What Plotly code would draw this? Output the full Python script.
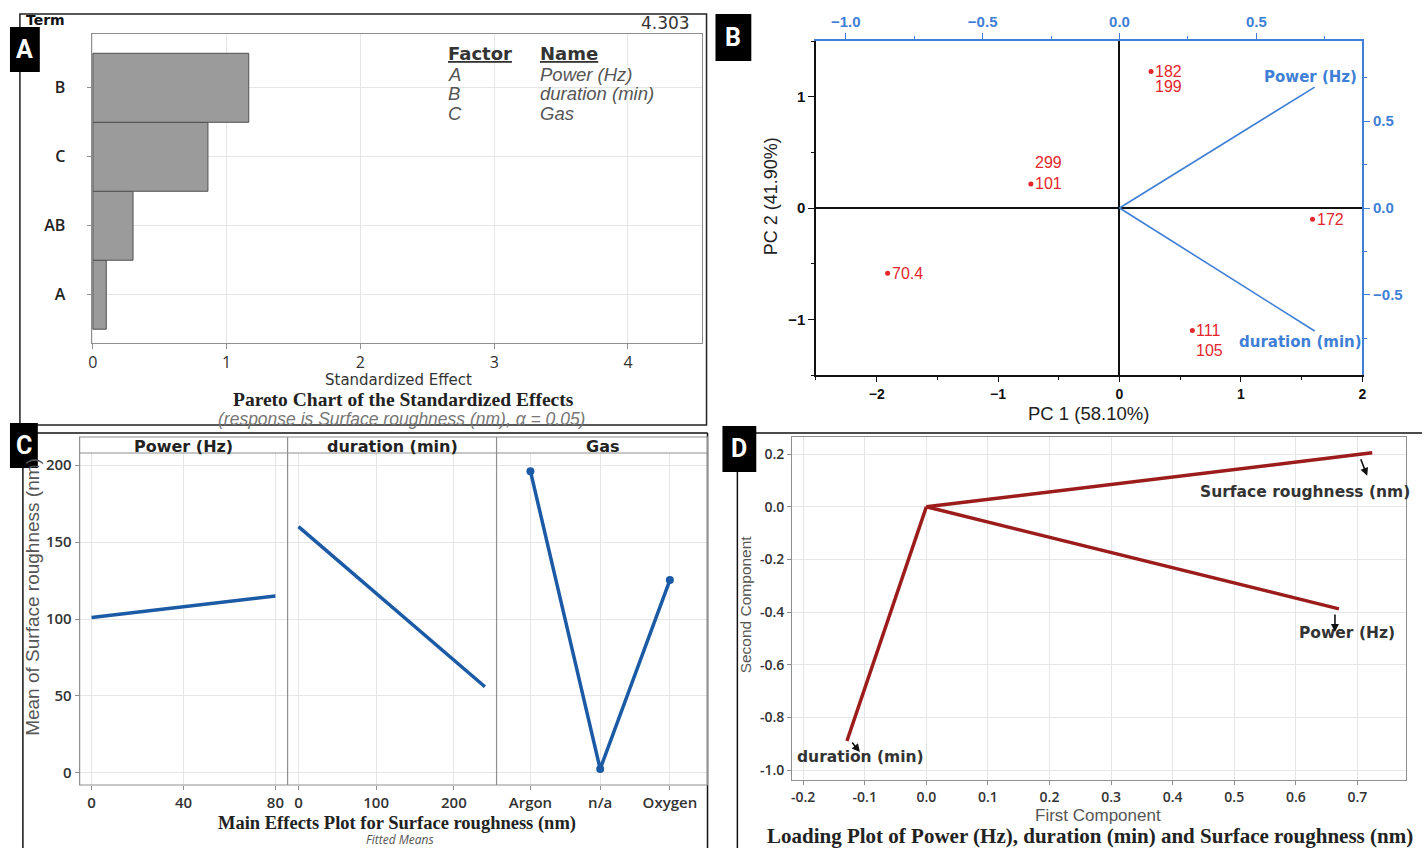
import plotly.graph_objects as go

W, H = 1426, 848
def X(px): return px / W
def Y(py): return 1 - py / H

# ---------------- Panel A: Pareto chart ----------------
pareto_terms = ["A", "AB", "C", "B"]
pareto_effects = [0.10, 0.30, 0.86, 1.165]
critical_value = 4.303
factor_codes = ["A", "B", "C"]
factor_names = ["Power (Hz)", "duration (min)", "Gas"]
pareto_xticks = [0, 1, 2, 3, 4]

# ---------------- Panel B: PCA biplot ----------------
score_labels = ["182", "101", "70.4", "172", "111"]
score_pc1 = [0.26, -0.73, -1.91, 1.59, 0.60]
score_pc2 = [1.225, 0.216, -0.586, -0.10, -1.10]
stacked_labels = ["199", "299", "105"]
stacked_pc1 = [0.26, -0.73, 0.60]
stacked_pc2 = [1.225, 0.216, -1.10]
stacked_shift = [-15, 21, -20]
biplot_vars = ["Power (Hz)", "duration (min)"]
biplot_load1 = [0.713, 0.713]
biplot_load2 = [0.695, -0.707]

# ---------------- Panel C: Main effects ----------------
power_levels = [0, 80]
power_means = [101, 115]
duration_levels = [0, 240]
duration_means = [160, 56]
gas_levels = ["Argon", "n/a", "Oxygen"]
gas_means = [196, 2.6, 125.3]
c_panels = ["Power (Hz)", "duration (min)", "Gas"]

# ---------------- Panel D: Loading plot ----------------
loading_vars = ["Surface roughness (nm)", "Power (Hz)", "duration (min)"]
first_comp = [0.724, 0.670, -0.129]
second_comp = [0.205, -0.388, -0.890]
d_xticks = [-0.2, -0.1, 0.0, 0.1, 0.2, 0.3, 0.4, 0.5, 0.6, 0.7]
d_yticks = [0.2, 0.0, -0.2, -0.4, -0.6, -0.8, -1.0]

SANS = "Open Sans"
ARIAL = "Liberation Sans"
SERIF = "Liberation Serif"
DJB = "DejaVu Sans"

fig = go.Figure()

# ---- A traces
fig.add_trace(go.Bar(x=pareto_effects, y=pareto_terms, orientation="h", width=1,
                     marker=dict(color="#9b9b9b", line=dict(color="#505050", width=1)),
                     xaxis="x", yaxis="y", showlegend=False))
fig.add_trace(go.Scatter(x=[critical_value, critical_value], y=[-0.7, 3.78], mode="lines",
                         line=dict(color="#555555", width=1.3, dash="dash"),
                         xaxis="x", yaxis="y", showlegend=False))

# ---- B traces
for name, lx, ly in zip(biplot_vars, biplot_load1, biplot_load2):
    fig.add_trace(go.Scatter(x=[0, lx], y=[0, ly], mode="lines",
                             line=dict(color="#3f7fd6", width=1.6),
                             xaxis="x3", yaxis="y3", showlegend=False))
fig.add_trace(go.Scatter(x=score_pc1, y=score_pc2, mode="markers",
                         marker=dict(color="#e3262c", size=5),
                         xaxis="x2", yaxis="y2", showlegend=False))

# ---- C traces
fig.add_trace(go.Scatter(x=power_levels, y=power_means, mode="lines",
                         line=dict(color="#1b5aa5", width=3.5), xaxis="x4", yaxis="y4", showlegend=False))
fig.add_trace(go.Scatter(x=duration_levels, y=duration_means, mode="lines",
                         line=dict(color="#1b5aa5", width=3.5), xaxis="x5", yaxis="y4", showlegend=False))
fig.add_trace(go.Scatter(x=gas_levels, y=gas_means, mode="lines+markers",
                         line=dict(color="#1b5aa5", width=3.5), marker=dict(size=8, color="#1b5aa5"),
                         xaxis="x6", yaxis="y4", showlegend=False))

# ---- D traces
for vx, vy in zip(first_comp, second_comp):
    fig.add_trace(go.Scatter(x=[0, vx], y=[0, vy], mode="lines",
                             line=dict(color="#9c1b1b", width=3.5),
                             xaxis="x7", yaxis="y7", showlegend=False))

grid = "#e6e6e6"
frame = "#8f8f8f"
tick_col = "#333333"

layout = dict(
    width=W, height=H, margin=dict(l=0, r=0, t=0, b=0),
    paper_bgcolor="white", plot_bgcolor="rgba(0,0,0,0)",
    # A
    xaxis=dict(domain=[X(89), X(702)], anchor="y", range=[-0.01, 4.55],
               tickvals=pareto_xticks, showgrid=True, gridcolor=grid, zeroline=False,
               showline=True, linecolor=frame, mirror=True, ticks="outside", ticklen=5, tickcolor=frame,
               tickfont=dict(family=SANS, size=16, color=tick_col)),
    yaxis=dict(domain=[Y(343), Y(34)], anchor="x", range=[-0.7, 3.78], type="category",
               categoryorder="array", categoryarray=pareto_terms,
               showgrid=True, gridcolor=grid, zeroline=False, showline=True, linecolor=frame, mirror=True,
               ticks="outside", ticklen=4, tickcolor=frame, ticklabelstandoff=18,
               tickfont=dict(family=SANS, size=16, color="#222", weight=600)),
    # B bottom/left
    xaxis2=dict(domain=[X(817), X(1366)], anchor="y2", range=[-2.5, 2.0], dtick=1,
                showgrid=False, zeroline=True, zerolinecolor="#111", zerolinewidth=1.5,
                showline=True, linecolor="#111", linewidth=1.5, ticks="outside", ticklen=5, tickcolor="#111",
                minor=dict(ticks="outside", ticklen=3, dtick=0.5, tickcolor="#111"),
                tickfont=dict(family=ARIAL, size=14, color="#111", weight="bold")),
    yaxis2=dict(domain=[Y(375), Y(41)], anchor="x2", range=[-1.5, 1.5], dtick=1,
                showgrid=False, zeroline=True, zerolinecolor="#111", zerolinewidth=1.5,
                showline=True, linecolor="#111", linewidth=1.5, ticks="outside", ticklen=6, tickcolor="#111",
                minor=dict(ticks="outside", ticklen=3, dtick=0.5, tickcolor="#111"),
                tickfont=dict(family=ARIAL, size=15, color="#111", weight="bold")),
    # B top/right (loadings)
    xaxis3=dict(overlaying="x2", side="top", anchor="y3", range=[-1.109, 0.887],
                tickvals=[-1.0, -0.5, 0.0, 0.5], tickformat=".1f",
                showgrid=False, zeroline=False, showline=True, linecolor="#3f7fd6", linewidth=1.5,
                ticks="outside", ticklen=6, tickcolor="#3f7fd6",
                minor=dict(ticks="outside", ticklen=3, dtick=0.25, tickcolor="#3f7fd6"),
                tickfont=dict(family=ARIAL, size=15, color="#3f7fd6", weight="bold")),
    yaxis3=dict(overlaying="y2", side="right", anchor="x3", range=[-0.96, 0.96],
                tickvals=[-0.5, 0.0, 0.5], tickformat=".1f",
                showgrid=False, zeroline=False, showline=True, linecolor="#3f7fd6", linewidth=1.5,
                ticks="outside", ticklen=6, tickcolor="#3f7fd6",
                minor=dict(ticks="outside", ticklen=3, dtick=0.25, tickcolor="#3f7fd6"),
                tickfont=dict(family=ARIAL, size=15, color="#3f7fd6", weight="bold")),
    # C
    xaxis4=dict(domain=[X(77), X(286)], anchor="y4", range=[-5.2, 85.3], tickvals=[0, 40, 80],
                showgrid=True, gridcolor=grid, zeroline=False, showline=False,
                ticks="outside", ticklen=4, tickcolor=frame,
                tickfont=dict(family=SANS, size=15, color=tick_col, weight=600)),
    xaxis5=dict(domain=[X(286), X(496)], anchor="y4", range=[-14, 255], tickvals=[0, 100, 200],
                showgrid=True, gridcolor=grid, zeroline=False, showline=False,
                ticks="outside", ticklen=4, tickcolor=frame,
                tickfont=dict(family=SANS, size=15, color=tick_col, weight=600)),
    xaxis6=dict(domain=[X(496), X(708)], anchor="y4", range=[-0.486, 2.54], type="category",
                showgrid=True, gridcolor=grid, zeroline=False, showline=False,
                ticks="outside", ticklen=4, tickcolor=frame,
                tickfont=dict(family=SANS, size=15, color=tick_col, weight=600)),
    yaxis4=dict(domain=[Y(785), Y(453)], anchor="x4", range=[-7.8, 207.8], tickvals=[0, 50, 100, 150, 200],
                showgrid=True, gridcolor=grid, zeroline=False, showline=False,
                ticks="outside", ticklen=4, tickcolor=frame,
                tickfont=dict(family=SANS, size=15, color=tick_col, weight=600)),
    # D
    xaxis7=dict(domain=[X(793), X(1410)], anchor="y7", range=[-0.218, 0.779],
                tickvals=d_xticks, ticktext=[f"{v:.1f}".replace("-0.0", "0.0") for v in d_xticks],
                showgrid=True, gridcolor=grid, zeroline=False, showline=True, linecolor=frame, mirror=True,
                ticks="outside", ticklen=4, tickcolor=frame,
                tickfont=dict(family=SANS, size=14, color=tick_col, weight=600)),
    yaxis7=dict(domain=[Y(780), Y(437)], anchor="x7", range=[-1.038, 0.265],
                tickvals=d_yticks, ticktext=[f"{v:.1f}".replace("-0.0", "0.0") for v in d_yticks],
                showgrid=True, gridcolor=grid, zeroline=False, showline=True, linecolor=frame, mirror=True,
                ticks="outside", ticklen=4, tickcolor=frame,
                tickfont=dict(family=SANS, size=14, color=tick_col, weight=600)),
)
fig.update_layout(**layout)

shapes = []
ann = []

def txt(x, y, text, size, family=SANS, color="#222", xanchor="center", yanchor="middle",
        angle=0, weight="normal", style="normal", xref="paper", yref="paper"):
    ann.append(dict(x=x, y=y, xref=xref, yref=yref, text=text, showarrow=False,
                    xanchor=xanchor, yanchor=yanchor, textangle=angle,
                    font=dict(family=family, size=size, color=color, weight=weight, style=style)))

def line(x0, y0, x1, y1, color="#111", width=1.5):
    shapes.append(dict(type="line", xref="paper", yref="paper", x0=X(x0), y0=Y(y0), x1=X(x1), y1=Y(y1),
                       line=dict(color=color, width=width)))

# panel borders
shapes.append(dict(type="rect", xref="paper", yref="paper", x0=X(17), y0=Y(425), x1=X(707), y1=Y(14),
                   line=dict(color="#222", width=1.5)))
line(20, 433, 708, 433)
line(20, 433, 20, 848)
line(708, 433, 708, 848)
line(738, 433, 1426, 433)
line(738, 433, 738, 848)

# Panel C frame and strips
shapes.append(dict(type="rect", xref="paper", yref="paper", x0=X(77), y0=Y(785), x1=X(708), y1=Y(437),
                   line=dict(color=frame, width=1.2)))
line(77, 453, 708, 453, color=frame, width=1.2)
line(286, 437, 286, 785, color=frame, width=1.2)
line(496, 437, 496, 785, color=frame, width=1.2)
for name, (a, b) in zip(c_panels, [(77, 286), (286, 496), (496, 708)]):
    txt(X((a + b) / 2), Y(446), name, 16, family=DJB, color="#222", weight="bold")

# letter boxes
for letter, (x0, y0, x1, y1) in zip("ABCD", [(7, 27, 37, 72), (716, 14, 752, 61),
                                             (7, 423, 35, 468), (723, 426, 757, 472)]):
    shapes.append(dict(type="rect", xref="paper", yref="paper", x0=X(x0), y0=Y(y1), x1=X(x1), y1=Y(y0),
                       fillcolor="black", line=dict(width=0), layer="above"))
    txt(X((x0 + x1) / 2), Y((y0 + y1) / 2), letter, 25, family="Liberation Sans Narrow, Roboto, sans-serif",
        color="white", weight="bold")

# ---- Panel A texts
txt(X(21), Y(20), "Term", 14, family=DJB, color="#111", xanchor="left", weight=600)
ann.append(dict(x=critical_value, y=Y(23), xref="x", yref="paper", text="4.303", showarrow=False,
                xanchor="center", yanchor="middle", xshift=-3,
                font=dict(family=DJB, size=17, color="#333")))
txt(X(445), Y(54), "<u>Factor</u>", 18, family=DJB, color="#333", xanchor="left", weight="bold")
txt(X(538), Y(54), "<u>Name</u>", 18, family=DJB, color="#333", xanchor="left", weight="bold")
for i, (c, n) in enumerate(zip(factor_codes, factor_names)):
    yy = 74 + i * 19.5
    txt(X(445), Y(yy), c, 18.5, family=ARIAL, color="#555", xanchor="left", style="italic")
    txt(X(538), Y(yy), n, 18.5, family=ARIAL, color="#555", xanchor="left", style="italic")
txt(X(397), Y(380), "Standardized Effect", 15, family=DJB, color="#333")
txt(X(402), Y(399.5), "Pareto Chart of the Standardized Effects", 19.5, family=SERIF, color="#222",
    weight="bold")
txt(X(400), Y(418.5), "(response is Surface roughness (nm), α = 0.05)", 17.5, family=ARIAL, color="#777",
    style="italic")

# ---- Panel B texts
for lab, px_, py_ in zip(score_labels, score_pc1, score_pc2):
    ann.append(dict(x=px_, y=py_, xref="x2", yref="y2", text=lab, showarrow=False, xanchor="left",
                    yanchor="middle", xshift=2, font=dict(family=ARIAL, size=16, color="#e3262c")))
for lab, px_, py_, sh in zip(stacked_labels, stacked_pc1, stacked_pc2, stacked_shift):
    ann.append(dict(x=px_, y=py_, xref="x2", yref="y2", text=lab, showarrow=False, xanchor="left",
                    yanchor="middle", xshift=2, yshift=sh, font=dict(family=ARIAL, size=16, color="#e3262c")))
ann.append(dict(x=biplot_load1[0], y=biplot_load2[0], xref="x3", yref="y3", text=biplot_vars[0],
                showarrow=False, xanchor="right", yanchor="middle", xshift=44, yshift=10,
                font=dict(family=DJB, size=15, color="#3f7fd6", weight="bold")))
ann.append(dict(x=biplot_load1[1], y=biplot_load2[1], xref="x3", yref="y3", text=biplot_vars[1],
                showarrow=False, xanchor="right", yanchor="middle", xshift=49, yshift=-11,
                font=dict(family=DJB, size=15, color="#3f7fd6", weight="bold")))
txt(X(1091), Y(413), "PC 1 (58.10%)", 18.5, family=ARIAL, color="#222")
txt(X(772), Y(196), "PC 2 (41.90%)", 18, family=ARIAL, color="#222", angle=-90)

# ---- Panel C texts
txt(X(29), Y(597), "Mean of Surface roughness (nm)", 19, family=ARIAL, color="#555", angle=-90)
txt(X(396), Y(823.5), "Main Effects Plot for Surface roughness (nm)", 18.5, family=SERIF, color="#222",
    weight="bold")
txt(X(399), Y(839.5), "Fitted Means", 12, family=SANS, color="#555", style="italic")

# ---- Panel D texts & arrows
d_label_pos = [dict(xanchor="right", xshift=40, yshift=-39),
               dict(xanchor="center", xshift=8, yshift=-24),
               dict(xanchor="center", xshift=14, yshift=-16)]
arrow_spec = [dict(xshift=-5, yshift=-23, ax=-7, ay=-18),
              dict(xshift=-4, yshift=-23, ax=0, ay=-19),
              dict(xshift=13, yshift=-11, ax=-9, ay=-11)]
for name, vx, vy, lp, ar in zip(loading_vars, first_comp, second_comp, d_label_pos, arrow_spec):
    ann.append(dict(x=vx, y=vy, xref="x7", yref="y7", text=name, showarrow=False,
                    xanchor=lp["xanchor"], yanchor="middle", xshift=lp["xshift"], yshift=lp["yshift"],
                    font=dict(family=DJB, size=15.5, color="#333", weight="bold")))
    ann.append(dict(x=vx, y=vy, xref="x7", yref="y7", text="", showarrow=True, arrowhead=2,
                    arrowsize=1, arrowwidth=1.6, arrowcolor="#111",
                    xshift=ar["xshift"], yshift=ar["yshift"], ax=ar["ax"], ay=ar["ay"]))
txt(X(1100), Y(815), "First Component", 17, family=ARIAL, color="#555")
txt(X(746), Y(604), "Second Component", 15.5, family=ARIAL, color="#555", angle=-90)
txt(X(1092), Y(835.5), "Loading Plot of Power (Hz), duration (min) and Surface roughness (nm)", 21,
    family=SERIF, color="#222", weight="bold")

fig.update_layout(shapes=shapes, annotations=ann)
fig.write_html("out.html", config={"displayModeBar": False},
               post_script="document.body.style.margin='0px';document.body.style.overflow='hidden';")
